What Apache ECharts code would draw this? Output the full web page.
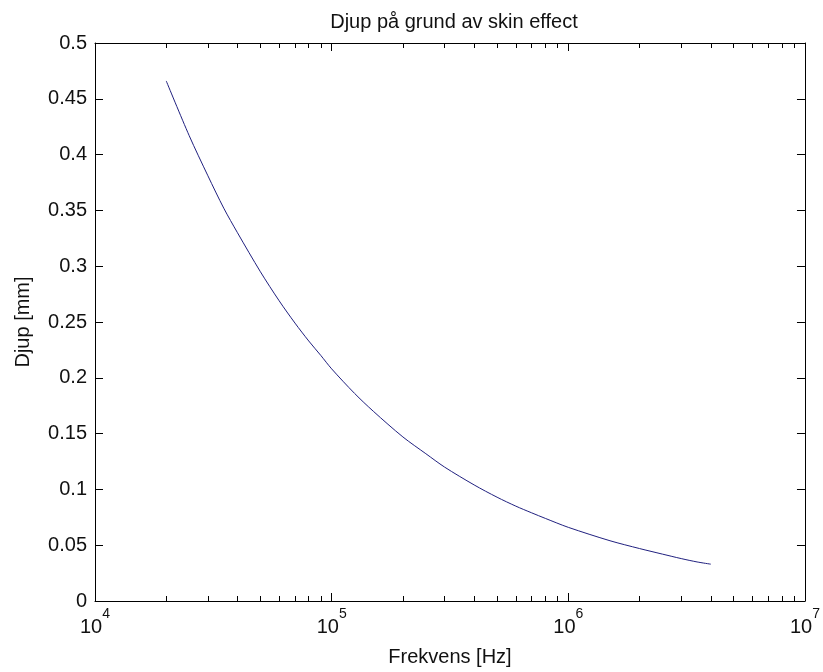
<!DOCTYPE html>
<html>
<head>
<meta charset="utf-8">
<script src="https://cdn.jsdelivr.net/npm/echarts@6/dist/echarts.min.js"></script>
<style>
html,body{margin:0;padding:0;background:#fff;}
#chart{width:823px;height:672px;}
</style>
</head>
<body>
<div id="chart"></div>
<script>
// Data
const titleText = 'Djup på grund av skin effect';
const xName = 'Frekvens [Hz]';
const yName = 'Djup [mm]';
const freq = [2e4, 2.5e4, 3e4, 3.5e4, 4e4, 5e4, 6e4, 7e4, 8e4, 9e4, 1e5, 1.25e5, 1.5e5, 2e5, 2.5e5, 3e5, 4e5, 5e5, 6e5, 7e5, 8e5, 1e6, 1.5e6, 2e6, 2.5e6, 3e6, 3.5e6, 4e6];
const depth = [0.466, 0.417, 0.381, 0.352, 0.330, 0.295, 0.269, 0.249, 0.233, 0.220, 0.208, 0.186, 0.170, 0.147, 0.132, 0.120, 0.104, 0.093, 0.085, 0.079, 0.074, 0.066, 0.054, 0.047, 0.042, 0.038, 0.035, 0.033];
const xMajorTicks = [1e4, 1e5, 1e6, 1e7];
const xMinorTicks = [2e4,3e4,4e4,5e4,6e4,7e4,8e4,9e4, 2e5,3e5,4e5,5e5,6e5,7e5,8e5,9e5, 2e6,3e6,4e6,5e6,6e6,7e6,8e6,9e6];
const yMin = 0, yMax = 0.5, yStep = 0.05;

const FONT = 'Liberation Sans, Arial, sans-serif';
const FS = 20;
const TXT = '#111';
const chart = echarts.init(document.getElementById('chart'));

const baseX = {
  type: 'log', logBase: 10, min: 1e4, max: 1e7,
  splitLine: {show: false}, minorTick: {show: false}, minorSplitLine: {show: false}
};
const lineStyle = {color: '#000', width: 1};

chart.setOption({
  backgroundColor: '#fff',
  animation: false,
  title: {
    text: titleText, left: 449, top: 7, textAlign: 'center',
    textStyle: {fontFamily: FONT, fontSize: FS, fontWeight: 'normal', color: TXT}
  },
  grid: {left: 95, right: 15, top: 43, bottom: 69, containLabel: false},
  xAxis: [
    Object.assign({}, baseX, {
      position: 'bottom', gridIndex: 0,
      name: xName, nameLocation: 'middle', nameGap: 46,
      nameTextStyle: {fontFamily: FONT, fontSize: FS, color: TXT},
      axisLine: {show: true, onZero: false, lineStyle: lineStyle},
      axisTick: {show: true, inside: true, length: 8, lineStyle: lineStyle, customValues: xMajorTicks},
      axisLabel: {
        show: true, margin: 6, customValues: xMajorTicks,
        formatter: function (v) { return '{b|10}{s|' + Math.round(Math.log10(v)) + '}'; },
        rich: {
          b: {fontFamily: FONT, fontSize: FS, color: TXT, lineHeight: 30, verticalAlign: 'bottom'},
          s: {fontFamily: FONT, fontSize: 14, color: TXT, lineHeight: 30, verticalAlign: 'top'}
        }
      }
    }),
    Object.assign({}, baseX, {
      position: 'bottom', gridIndex: 0,
      axisLine: {show: false, onZero: false},
      axisTick: {show: true, inside: true, length: 5, lineStyle: lineStyle, customValues: xMinorTicks},
      axisLabel: {show: false}
    }),
    Object.assign({}, baseX, {
      position: 'top', gridIndex: 0,
      axisLine: {show: true, onZero: false, lineStyle: lineStyle},
      axisTick: {show: true, inside: true, length: 8, lineStyle: lineStyle, customValues: xMajorTicks},
      axisLabel: {show: false}
    }),
    Object.assign({}, baseX, {
      position: 'top', gridIndex: 0,
      axisLine: {show: false, onZero: false},
      axisTick: {show: true, inside: true, length: 5, lineStyle: lineStyle, customValues: xMinorTicks},
      axisLabel: {show: false}
    })
  ],
  yAxis: [
    {
      type: 'value', min: yMin, max: yMax, interval: yStep, position: 'left',
      name: yName, nameLocation: 'middle', nameGap: 62, nameRotate: 90,
      nameTextStyle: {fontFamily: FONT, fontSize: FS, color: TXT},
      axisLine: {show: true, onZero: false, lineStyle: lineStyle},
      axisTick: {show: true, inside: true, length: 8, lineStyle: lineStyle},
      axisLabel: {show: true, margin: 8, fontFamily: FONT, fontSize: FS, color: TXT},
      splitLine: {show: false}
    },
    {
      type: 'value', min: yMin, max: yMax, interval: yStep, position: 'right',
      axisLine: {show: true, onZero: false, lineStyle: lineStyle},
      axisTick: {show: true, inside: true, length: 8, lineStyle: lineStyle},
      axisLabel: {show: false},
      splitLine: {show: false}
    }
  ],
  series: [{
    type: 'line', xAxisIndex: 0, yAxisIndex: 0,
    data: freq.map((f, i) => [f, depth[i]]),
    smooth: 0.3, showSymbol: false, symbol: 'none',
    lineStyle: {color: '#20207f', width: 1}
  }]
});
</script>
</body>
</html>
